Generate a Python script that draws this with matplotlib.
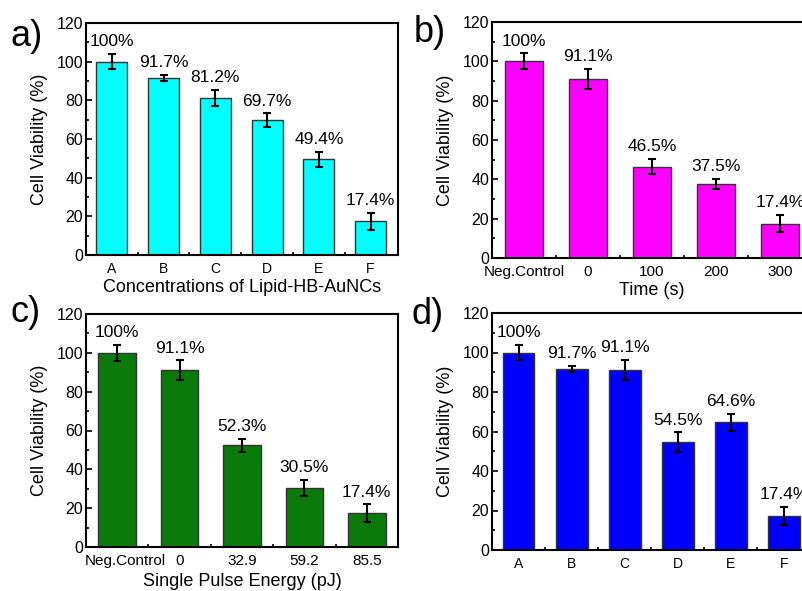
"""
Cell viability bar charts, four panels a) - d)
"""

import matplotlib
matplotlib.use('Agg')
import matplotlib.pyplot as plt
from matplotlib.ticker import MultipleLocator
from matplotlib.transforms import ScaledTranslation
import numpy as np

plt.rcParams['font.family'] = ['Liberation Sans', 'DejaVu Sans']

# panel a) concentrations
a_labels = ['A', 'B', 'C', 'D', 'E', 'F']
a_values = [100, 91.7, 81.2, 69.7, 49.4, 17.4]
a_errors = [4.0, 1.5, 4.3, 3.5, 4.0, 4.5]

# panel b) irradiation time
b_labels = ['Neg.Control', '0', '100', '200', '300']
b_values = [100, 91.1, 46.5, 37.5, 17.4]
b_errors = [4.0, 5.0, 4.0, 2.5, 4.3]

# panel c) single pulse energy
c_labels = ['Neg.Control', '0', '32.9', '59.2', '85.5']
c_values = [100, 91.1, 52.3, 30.5, 17.4]
c_errors = [4.0, 5.0, 3.5, 4.0, 4.5]

# panel d)
d_labels = ['A', 'B', 'C', 'D', 'E', 'F']
d_values = [100, 91.7, 91.1, 54.5, 64.6, 17.4]
d_errors = [4.0, 1.5, 5.0, 5.0, 4.5, 4.5]

W, H = 803, 591


def px_axes(fig, left, top, right, bottom):
    """Add axes from pixel box (origin top-left)"""
    return fig.add_axes([left / W, (H - bottom) / H, (right - left) / W, (bottom - top) / H])


def bar_panel(ax, labels, values, errors, color, xmax, xlabel, tick_size, xlabelpad=2):
    x = np.arange(1, len(values) + 1)
    ax.bar(x, values, width=0.6, color=color, edgecolor='#333333', linewidth=1.0, zorder=2)
    ax.errorbar(x, values, yerr=errors, fmt='none', ecolor='black',
                elinewidth=1.5, capsize=3, capthick=1.5, zorder=3)

    for xi, v, e in zip(x, values, errors):
        txt = f'{v:g}%'
        ax.text(xi, v + e + 4, txt, ha='center', va='baseline', fontsize=12.5, zorder=4)

    ax.set_xlim(0.5, xmax)
    ax.set_ylim(0, 120)
    ax.set_xticks(x)
    ax.set_xticklabels(labels, fontsize=tick_size)
    ax.set_xticks(x[:-1] + 0.5, minor=True)
    ax.yaxis.set_major_locator(MultipleLocator(20))
    ax.yaxis.set_minor_locator(MultipleLocator(10))
    ax.tick_params(axis='both', which='both', direction='in', top=False, right=False)
    ax.tick_params(axis='both', which='major', length=4, width=1.2)
    ax.tick_params(axis='both', which='minor', length=2.5, width=1.2)
    ax.tick_params(axis='y', labelsize=11.5, pad=2)
    ax.tick_params(axis='x', pad=5)
    for sp in ax.spines.values():
        sp.set_linewidth(1.5)
    ax.set_ylabel('Cell Viability (%)', fontsize=13, labelpad=6)
    if xlabel:
        ax.set_xlabel(xlabel, fontsize=13, labelpad=xlabelpad)


fig = plt.figure(figsize=(W / 100, H / 100), dpi=100)

ax1 = px_axes(fig, 86, 23, 398, 255)
bar_panel(ax1, a_labels, a_values, a_errors, '#00FFFF', 6.53,
          'Concentrations of Lipid-HB-AuNCs', 10)

ax2 = px_axes(fig, 492, 22, 812, 258)
bar_panel(ax2, b_labels, b_values, b_errors, '#FF00FF', 5.5, 'Time (s)', 11)

ax3 = px_axes(fig, 86, 314, 398, 547)
bar_panel(ax3, c_labels, c_values, c_errors, '#0A7A0A', 5.5,
          'Single Pulse Energy (pJ)', 11, xlabelpad=3.5)
# first label sits a little right of its bar in the original
lbl = ax3.get_xticklabels()[0]
lbl.set_transform(lbl.get_transform() + ScaledTranslation(8 / 100, 0, fig.dpi_scale_trans))

ax4 = px_axes(fig, 492, 313, 812, 550)
bar_panel(ax4, d_labels, d_values, d_errors, '#0000FF', 6.53, None, 10)

# panel letters
for lab, px, py in [('a)', 27, 36), ('b)', 430, 33), ('c)', 26, 312), ('d)', 428, 314)]:
    fig.text(px / W, 1 - py / H, lab, fontsize=26, ha='center', va='center')

fig.savefig('out.png', dpi=100)
